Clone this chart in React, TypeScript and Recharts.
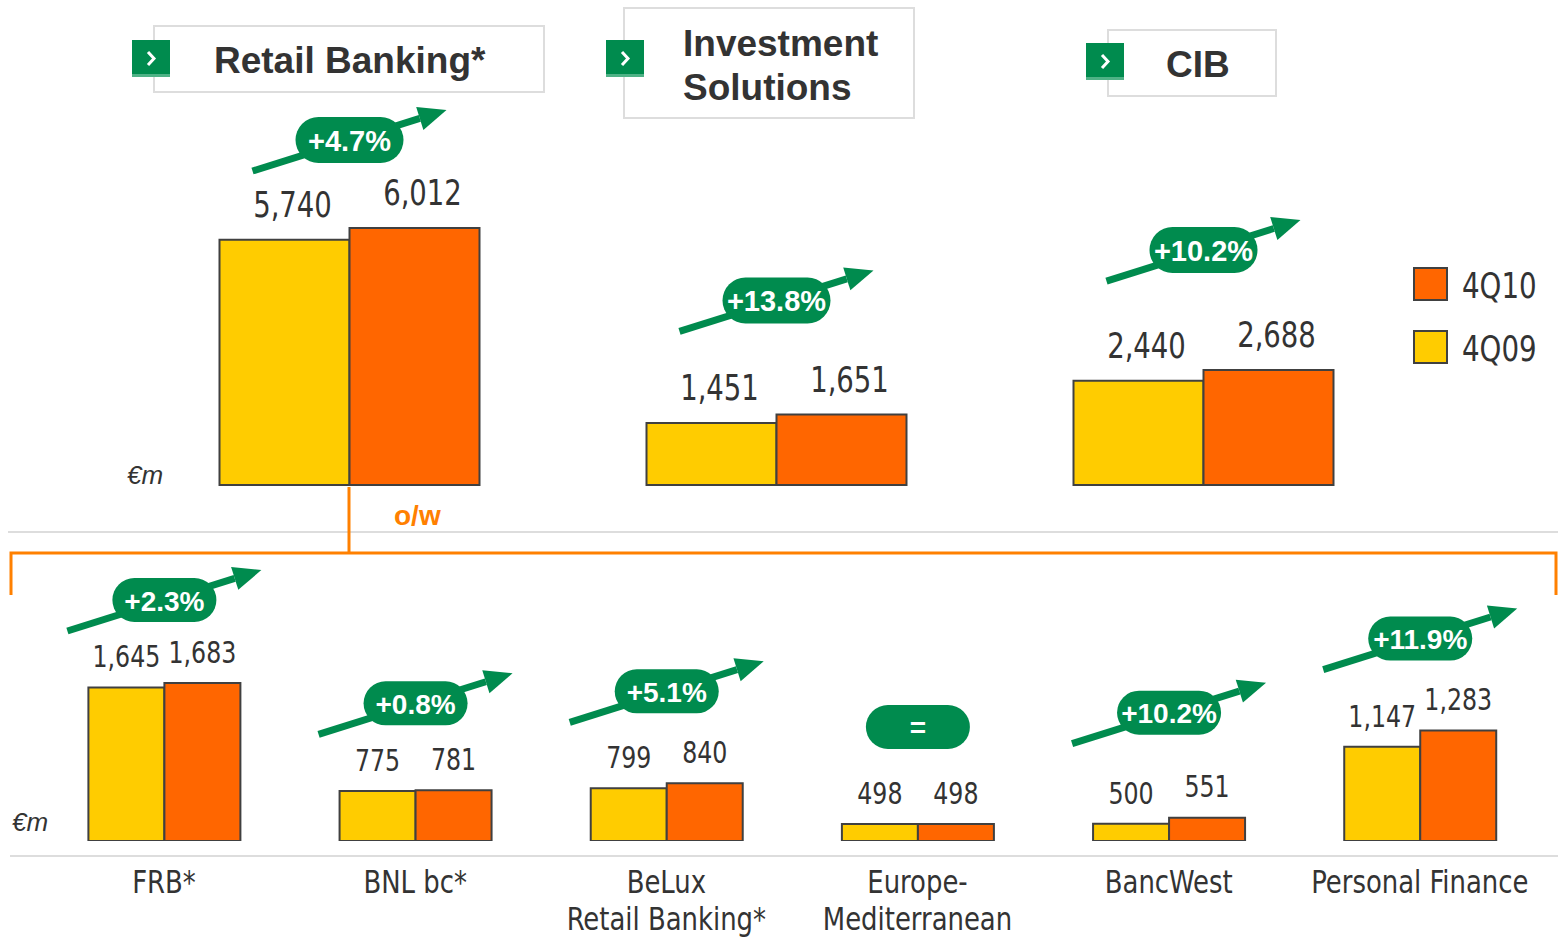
import React from "react";
import { BarChart, Bar, XAxis, YAxis, LabelList } from "recharts";

// divisions, €m
const topCategories = ["Retail Banking*", "Investment Solutions", "CIB"];
const top4Q09 = [5740, 1451, 2440];
const top4Q10 = [6012, 1651, 2688];
const topChanges = ["+4.7%", "+13.8%", "+10.2%"];

// of which (retail banking businesses)
const subCategories = [
  "FRB*",
  "BNL bc*",
  "BeLux\nRetail Banking*",
  "Europe-\nMediterranean",
  "BancWest",
  "Personal Finance",
];
const sub4Q09 = [1645, 775, 799, 498, 500, 1147];
const sub4Q10 = [1683, 781, 840, 498, 551, 1283];
const subChanges = ["+2.3%", "+0.8%", "+5.1%", "=", "+10.2%", "+11.9%"];

const seriesNames = ["4Q09", "4Q10"];

const W = 1558;
const H = 937;
const YELLOW = "#FFCC00";
const ORANGE = "#FF6600";
const LINE_ORANGE = "#FF8000";
const GREEN = "#008B4E";
const EDGE = "#404040";
const TEXT = "#333333";
const NARROW =
  '"Liberation Sans Narrow", "Arial Narrow", "DejaVu Sans Condensed", "Roboto Condensed", sans-serif';
const BOLD = '"Liberation Sans", Arial, Helvetica, sans-serif';

// how far above the 4Q10 bar top each badge sits
const topLift = [88, 114, 120];
const subLift = [83, 87, 92, 97, 105, 92];

const topData = topCategories.map((name, i) => ({
  name,
  q09: top4Q09[i],
  q10: top4Q10[i],
  change: topChanges[i],
}));

const subData = subCategories.map((name, i) => ({
  name,
  q09: sub4Q09[i],
  q10: sub4Q10[i],
  change: subChanges[i],
}));

const fmt = (v: number) => v.toLocaleString("en-US");

function box(props: any) {
  const vb = props.viewBox || {};
  return {
    x: vb.x ?? props.x,
    y: vb.y ?? props.y,
    width: vb.width ?? props.width,
    height: vb.height ?? props.height,
  };
}

// condensed text: the narrow face is wider than the original, so squeeze it a bit
function Narrow({
  x,
  y,
  size,
  squeeze,
  anchor = "middle",
  children,
}: {
  x: number;
  y: number;
  size: number;
  squeeze: number;
  anchor?: string;
  children: React.ReactNode;
}) {
  return (
    <text
      transform={`translate(${x},${y}) scale(${squeeze},1)`}
      x={0}
      y={0}
      textAnchor={anchor}
      dominantBaseline="central"
      fontFamily={NARROW}
      fontSize={size}
      fill={TEXT}
    >
      {children}
    </text>
  );
}

const valueLabel = (dx: number, dy: number, size: number) => (props: any) => {
  const { x, y, width } = box(props);
  return (
    <Narrow x={x + width / 2 + dx} y={y + dy} size={size} squeeze={0.85}>
      {fmt(Number(props.value))}
    </Narrow>
  );
};

const badge =
  (lift: number[], w: number, h: number, size: number) => (props: any) => {
    const { x, y } = box(props);
    const i = props.index ?? 0;
    const cx = x; // 4Q10 bar starts at the category centre
    const cy = y - lift[i];
    const text = String(props.value);
    const tail = [cx - 97, cy + 31];
    const tip = [cx + 97, cy - 30];
    const dx = tip[0] - tail[0];
    const dy = tip[1] - tail[1];
    const len = Math.hypot(dx, dy);
    const ux = dx / len;
    const uy = dy / len;
    const base = [tip[0] - ux * 28, tip[1] - uy * 28];
    const nx = -uy;
    const ny = ux;
    return (
      <g>
        {text !== "=" && (
          <g>
            <line
              x1={tail[0]}
              y1={tail[1]}
              x2={base[0]}
              y2={base[1]}
              stroke={GREEN}
              strokeWidth={7}
            />
            <polygon
              points={`${tip[0]},${tip[1]} ${base[0] + nx * 12},${base[1] + ny * 12} ${base[0] - nx * 12},${base[1] - ny * 12}`}
              fill={GREEN}
            />
          </g>
        )}
        <rect
          x={cx - w / 2}
          y={cy - h / 2}
          width={w}
          height={h}
          rx={h / 2}
          fill={GREEN}
        />
        <text
          x={cx}
          y={cy + 1}
          textAnchor="middle"
          dominantBaseline="central"
          fontFamily={BOLD}
          fontWeight="bold"
          fontSize={size}
          fill="#ffffff"
        >
          {text}
        </text>
      </g>
    );
  };

function SubTick(props: any) {
  const { x, y, payload } = props;
  const lines = String(payload.value).split("\n");
  return (
    <g>
      {lines.map((l, k) => (
        <Narrow key={k} x={x} y={y + 41 + k * 37} size={32} squeeze={0.9}>
          {l}
        </Narrow>
      ))}
    </g>
  );
}

function Header({
  bx,
  by,
  bw,
  bh,
  sx,
  sy,
  lines,
  tx,
  ty,
}: {
  bx: number;
  by: number;
  bw: number;
  bh: number;
  sx: number;
  sy: number;
  lines: string[];
  tx: number;
  ty: number;
}) {
  return (
    <g>
      <rect x={bx} y={by} width={bw} height={bh} fill="#fff" stroke="#dddddd" strokeWidth={2} />
      <rect x={sx} y={sy} width={38} height={37} fill={GREEN} />
      <rect x={sx} y={sy + 34} width={38} height={3} fill="#4fb286" />
      <polyline
        points={`${sx + 16},${sy + 12} ${sx + 22},${sy + 18.5} ${sx + 16},${sy + 25}`}
        fill="none"
        stroke="#fff"
        strokeWidth={3}
      />
      <text fontFamily={BOLD} fontWeight="bold" fontSize={37} fill={TEXT}>
        {lines.map((l, k) => (
          <tspan key={k} x={tx} y={ty + k * 44}>
            {l}
          </tspan>
        ))}
      </text>
    </g>
  );
}

export default function App() {
  const legendColors = [YELLOW, ORANGE];
  return (
    <div
      style={{
        position: "absolute",
        left: 0,
        top: 0,
        width: W,
        height: H,
        background: "#fff",
        overflow: "hidden",
      }}
    >
      <svg width={W} height={H} style={{ position: "absolute", left: 0, top: 0 }}>
        <Header bx={154} by={26} bw={390} bh={66} sx={132} sy={40} lines={["Retail Banking*"]} tx={214} ty={73} />
        <Header bx={624} by={8} bw={290} bh={110} sx={606} sy={40} lines={["Investment", "Solutions"]} tx={683} ty={56} />
        <Header bx={1108} by={30} bw={168} bh={66} sx={1086} sy={43} lines={["CIB"]} tx={1166} ty={77} />

        {[1, 0].map((s, k) => (
          <g key={s}>
            <rect x={1414} y={268 + k * 63} width={33} height={32} fill={legendColors[s]} stroke={EDGE} strokeWidth={2} />
            <Narrow x={1462} y={286 + k * 63} size={35} squeeze={0.88} anchor="start">
              {seriesNames[s]}
            </Narrow>
          </g>
        ))}

        <text x={127} y={475} dominantBaseline="central" fontFamily={BOLD} fontStyle="italic" fontSize={26} fill={TEXT}>
          €m
        </text>
        <text x={12} y={822} dominantBaseline="central" fontFamily={BOLD} fontStyle="italic" fontSize={26} fill={TEXT}>
          €m
        </text>

        <line x1={8} y1={532} x2={W} y2={532} stroke="#dddddd" strokeWidth={2} />
        <line x1={10} y1={856} x2={W} y2={856} stroke="#dddddd" strokeWidth={2} />

        <polyline
          points="349,487 349,553"
          fill="none"
          stroke={LINE_ORANGE}
          strokeWidth={3}
        />
        <polyline
          points="11,595 11,553 1556,553 1556,595"
          fill="none"
          stroke={LINE_ORANGE}
          strokeWidth={3}
        />
        <text x={394} y={515} dominantBaseline="central" fontFamily={BOLD} fontWeight="bold" fontSize={28} fill={LINE_ORANGE}>
          o/w
        </text>
      </svg>

      <div style={{ position: "absolute", left: 0, top: 0 }}>
        <BarChart
          width={W}
          height={500}
          data={topData}
          margin={{ top: 185.8, right: 141.5, bottom: 15, left: 135.5 }}
          barGap={0}
          barSize={130}
        >
          <XAxis dataKey="name" hide />
          <YAxis hide domain={[0, 7000]} />
          <Bar dataKey="q09" name={seriesNames[0]} fill={YELLOW} stroke={EDGE} strokeWidth={2} isAnimationActive={false}>
            <LabelList dataKey="q09" content={valueLabel(8, -35, 36)} />
          </Bar>
          <Bar dataKey="q10" name={seriesNames[1]} fill={ORANGE} stroke={EDGE} strokeWidth={2} isAnimationActive={false}>
            <LabelList dataKey="q10" content={valueLabel(8, -35, 36)} />
            <LabelList dataKey="change" content={badge(topLift, 108, 46, 29)} />
          </Bar>
        </BarChart>
      </div>

      <div style={{ position: "absolute", left: 0, top: 0 }}>
        <BarChart
          width={W}
          height={H}
          data={subData}
          margin={{ top: 657.2, right: 12.6, bottom: 0, left: 38.4 }}
          barGap={0}
          barSize={76}
        >
          <XAxis
            dataKey="name"
            height={96}
            axisLine={false}
            tickLine={false}
            tickSize={0}
            tickMargin={0}
            interval={0}
            tick={<SubTick />}
          />
          <YAxis hide domain={[355, 1900]} allowDataOverflow />
          <Bar dataKey="q09" name={seriesNames[0]} fill={YELLOW} stroke={EDGE} strokeWidth={2} isAnimationActive={false}>
            <LabelList dataKey="q09" content={valueLabel(0, -31, 31)} />
          </Bar>
          <Bar dataKey="q10" name={seriesNames[1]} fill={ORANGE} stroke={EDGE} strokeWidth={2} isAnimationActive={false}>
            <LabelList dataKey="q10" content={valueLabel(0, -31, 31)} />
            <LabelList dataKey="change" content={badge(subLift, 104, 44, 28)} />
          </Bar>
        </BarChart>
      </div>
    </div>
  );
}
